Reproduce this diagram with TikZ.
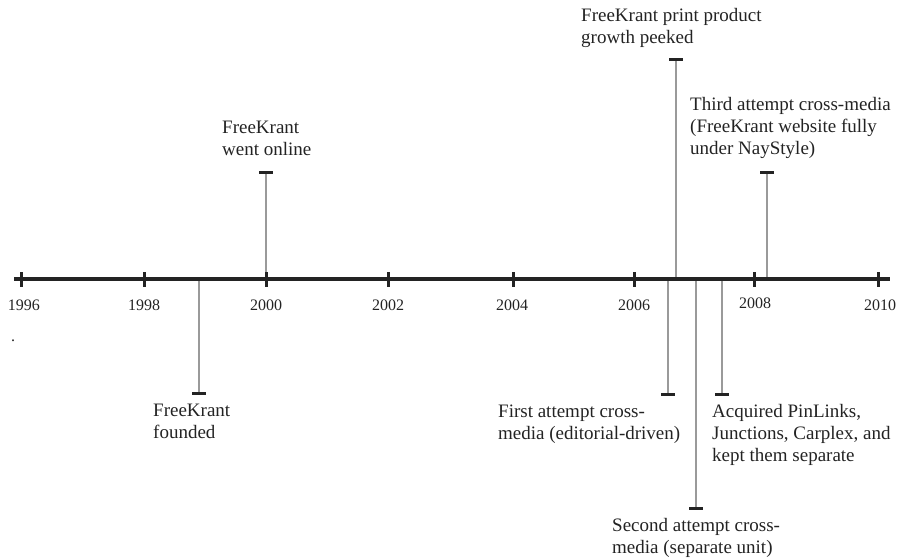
\documentclass[tikz,border=0pt]{standalone}
\usepackage{fontspec}
\setmainfont{Liberation Serif}
\usepackage{tikz}
\pgfdeclarelayer{edgelayer}
\pgfdeclarelayer{nodelayer}
\pgfsetlayers{edgelayer,nodelayer,main}
\definecolor{ink}{HTML}{232323}
\definecolor{stemgray}{HTML}{9A9A9A}
\tikzstyle{axis}=[draw=ink, line width=4.5pt]
\tikzstyle{stem}=[draw=stemgray, line width=1.3pt]
\tikzstyle{yeartick}=[rectangle, fill=ink, inner sep=0pt, minimum width=3pt, minimum height=15pt]
\tikzstyle{endcap}=[rectangle, fill=ink, inner sep=0pt, minimum width=14pt, minimum height=3pt]
\tikzstyle{year}=[text=ink, inner sep=0pt, anchor=base, font=\fontsize{16}{18}\selectfont]
\tikzstyle{event}=[text=ink, inner sep=0pt, anchor=base west, align=left, font=\fontsize{19}{22}\selectfont]

\begin{document}
\begin{tikzpicture}[x=1pt, y=-1pt]
				\useasboundingbox (0, 0) rectangle (899, 558);
				\begin{pgfonlayer}{nodelayer}
					\coordinate (L) at (14, 279);
					\coordinate (R) at (890, 279);
					\node [style=yeartick] (0) at (21, 279) {};
					\node [style=yeartick] (1) at (144, 279) {};
					\node [style=yeartick] (2) at (266, 279) {};
					\node [style=yeartick] (3) at (388, 279) {};
					\node [style=yeartick] (4) at (513, 279) {};
					\node [style=yeartick] (5) at (634, 279) {};
					\node [style=yeartick] (6) at (754, 279) {};
					\node [style=yeartick] (7) at (878, 279) {};
					\node [style=year] (y0) at (24, 310) {1996};
					\node [style=year] (y1) at (144, 310) {1998};
					\node [style=year] (y2) at (266, 310) {2000};
					\node [style=year] (y3) at (388, 310) {2002};
					\node [style=year] (y4) at (512, 310) {2004};
					\node [style=year] (y5) at (634, 310) {2006};
					\node [style=year] (y6) at (755, 308) {2008};
					\node [style=year] (y7) at (880, 310) {2010};
					\node [style=year] (dot) at (13, 341) {.};
					% event stems start on the axis, caps at their free end
					\coordinate (a0) at (199, 279);
					\coordinate (a1) at (266, 279);
					\coordinate (a2) at (668, 279);
					\coordinate (a3) at (676, 279);
					\coordinate (a4) at (696, 279);
					\coordinate (a5) at (722, 279);
					\coordinate (a6) at (767, 279);
					\node [style=endcap] (c0) at (199, 393) {};
					\node [style=endcap] (c1) at (266, 172) {};
					\node [style=endcap] (c2) at (668, 394) {};
					\node [style=endcap] (c3) at (676, 59) {};
					\node [style=endcap] (c4) at (696, 508) {};
					\node [style=endcap] (c5) at (722, 394) {};
					\node [style=endcap] (c6) at (767, 172) {};
					% labels sit on the baseline of their last line
					\node [style=event] (e0) at (153, 438) {FreeKrant\\founded};
					\node [style=event] (e1) at (222, 155) {FreeKrant\\went online};
					\node [style=event] (e2) at (498, 439) {First attempt cross-\\media (editorial-driven)};
					\node [style=event] (e3) at (581, 43) {FreeKrant print product\\growth peeked};
					\node [style=event] (e4) at (612, 553) {Second attempt cross-\\media (separate unit)};
					\node [style=event] (e5) at (712, 461) {Acquired PinLinks,\\Junctions, Carplex, and\\kept them separate};
					\node [style=event] (e6) at (690, 154) {Third attempt cross-media\\(FreeKrant website fully\\under NayStyle)};
				\end{pgfonlayer}
				\begin{pgfonlayer}{edgelayer}
					\draw [style=stem] (a0) to (c0.center);
					\draw [style=stem] (a1) to (c1.center);
					\draw [style=stem] (a2) to (c2.center);
					\draw [style=stem] (a3) to (c3.center);
					\draw [style=stem] (a4) to (c4.center);
					\draw [style=stem] (a5) to (c5.center);
					\draw [style=stem] (a6) to (c6.center);
					\draw [style=axis] (L) to (R);
				\end{pgfonlayer}
			\end{tikzpicture}
\end{document}
